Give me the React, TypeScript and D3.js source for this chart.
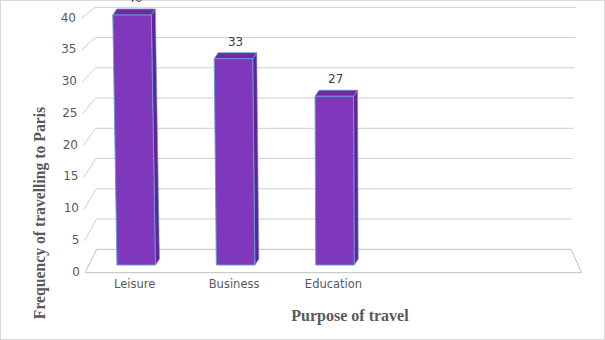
import React from "react";
import * as d3 from "d3";

const categories = ["Leisure", "Business", "Education"];
const values = [40, 33, 27];
const slotCount = 5;
const yTicks = [0, 5, 10, 15, 20, 25, 30, 35, 40];

const W = 605;
const H = 340;

export default function App() {
  const x = d3.scaleBand<number>().domain(d3.range(slotCount)).range([85, 582]);
  const yBack = d3.scaleLinear().domain([0, 40]).range([249.3, 7.3]);
  const yFront = d3.scaleLinear().domain([0, 40]).range([272.7, 18.5]);
  const xFront = d3.scaleLinear().domain([0, 40]).range([85, 81]);
  const xBack = d3.scaleLinear().domain([0, 40]).range([96.7, 95]);
  const xBackRight = d3.scaleLinear().domain([0, 40]).range([571, 575.7]);
  const yBar = d3.scaleLinear().domain([0, 40]).range([265, 15]);

  const barW = 38.5;
  const dX = 4;
  const dY = -6;
  const grid = "#cfcfcf";
  const text = "#595959";

  const pts = (p: [number, number][]) => p.map((q) => q.join(",")).join(" ");

  return (
    <svg
      width={W}
      height={H}
      style={{ position: "absolute", left: 0, top: 0, background: "#fff" }}
    >
      <rect x={0.5} y={0.5} width={W - 1} height={H - 1} fill="#fff" stroke="#d9d9d9" />
      {/* floor */}
      <polygon
        points={pts([
          [xFront(0), yFront(0)],
          [581.7, yFront(0)],
          [xBackRight(0), yBack(0)],
          [xBack(0), yBack(0)],
        ])}
        fill="#fff"
        stroke="#bfbfbf"
        strokeWidth={1}
      />
      {/* back wall gridlines + left wall diagonals */}
      {yTicks.map((t) => (
        <g key={t}>
          {t > 0 && (
            <line
              x1={xBack(t)}
              x2={xBackRight(t)}
              y1={yBack(t)}
              y2={yBack(t)}
              stroke={grid}
              strokeWidth={1}
            />
          )}
          <line
            x1={xFront(t)}
            y1={yFront(t)}
            x2={xBack(t)}
            y2={yBack(t)}
            stroke={grid}
            strokeWidth={1}
          />
          <text
            x={xFront(t) - 5}
            y={yFront(t) - 1}
            textAnchor="end"
            dominantBaseline="central"
            fontFamily="DejaVu Sans, sans-serif"
            fontSize={12}
            fill={text}
          >
            {t}
          </text>
        </g>
      ))}
      {/* bars */}
      {values.map((v, i) => {
        const cx = (x(i) as number) + x.bandwidth() / 2 + 1.5;
        const x0 = cx - barW / 2;
        const x1 = cx + barW / 2;
        const yb = yBar(0);
        const yt = yBar(v);
        const s = ((yb - yt) * Math.max(0, 400 - cx)) / 16000;
        const front: [number, number][] = [
          [x0, yb],
          [x1, yb],
          [x1 - s, yt],
          [x0 - s, yt],
        ];
        const top: [number, number][] = [
          [x0 - s, yt],
          [x1 - s, yt],
          [x1 - s + dX, yt + dY],
          [x0 - s + dX, yt + dY],
        ];
        const side: [number, number][] = [
          [x1, yb],
          [x1 + dX, yb + dY],
          [x1 - s + dX, yt + dY],
          [x1 - s, yt],
        ];
        return (
          <g key={categories[i]}>
            <polygon points={pts(side)} fill="#5e2690" stroke="#6f8fd0" strokeWidth={0.6} />
            <polygon points={pts(top)} fill="#6a2ca0" stroke="#6f8fd0" strokeWidth={0.8} />
            <polygon points={pts(front)} fill="#7f37bb" stroke="#6a9ad8" strokeWidth={1} />
            <text
              x={cx - s / 2 + 1}
              y={yt + dY - 7}
              textAnchor="middle"
              fontFamily="DejaVu Sans, sans-serif"
              fontSize={12}
              fill="#404040"
            >
              {v}
            </text>
          </g>
        );
      })}
      {/* category labels */}
      {categories.map((c, i) => (
        <text
          key={c}
          x={(x(i) as number) + x.bandwidth() / 2}
          y={287.5}
          textAnchor="middle"
          fontFamily="DejaVu Sans, sans-serif"
          fontSize={11.5}
          fill={text}
        >
          {c}
        </text>
      ))}
      <text
        x={350}
        y={320.5}
        textAnchor="middle"
        fontFamily="Liberation Serif, Times New Roman, serif"
        fontWeight="bold"
        fontSize={16}
        fill={text}
      >
        Purpose of travel
      </text>
      <text
        transform="translate(45,213) rotate(-90)"
        textAnchor="middle"
        fontFamily="Liberation Serif, Times New Roman, serif"
        fontWeight="bold"
        fontSize={15.7}
        fill={text}
      >
        Frequency of travelling to Paris
      </text>
    </svg>
  );
}
